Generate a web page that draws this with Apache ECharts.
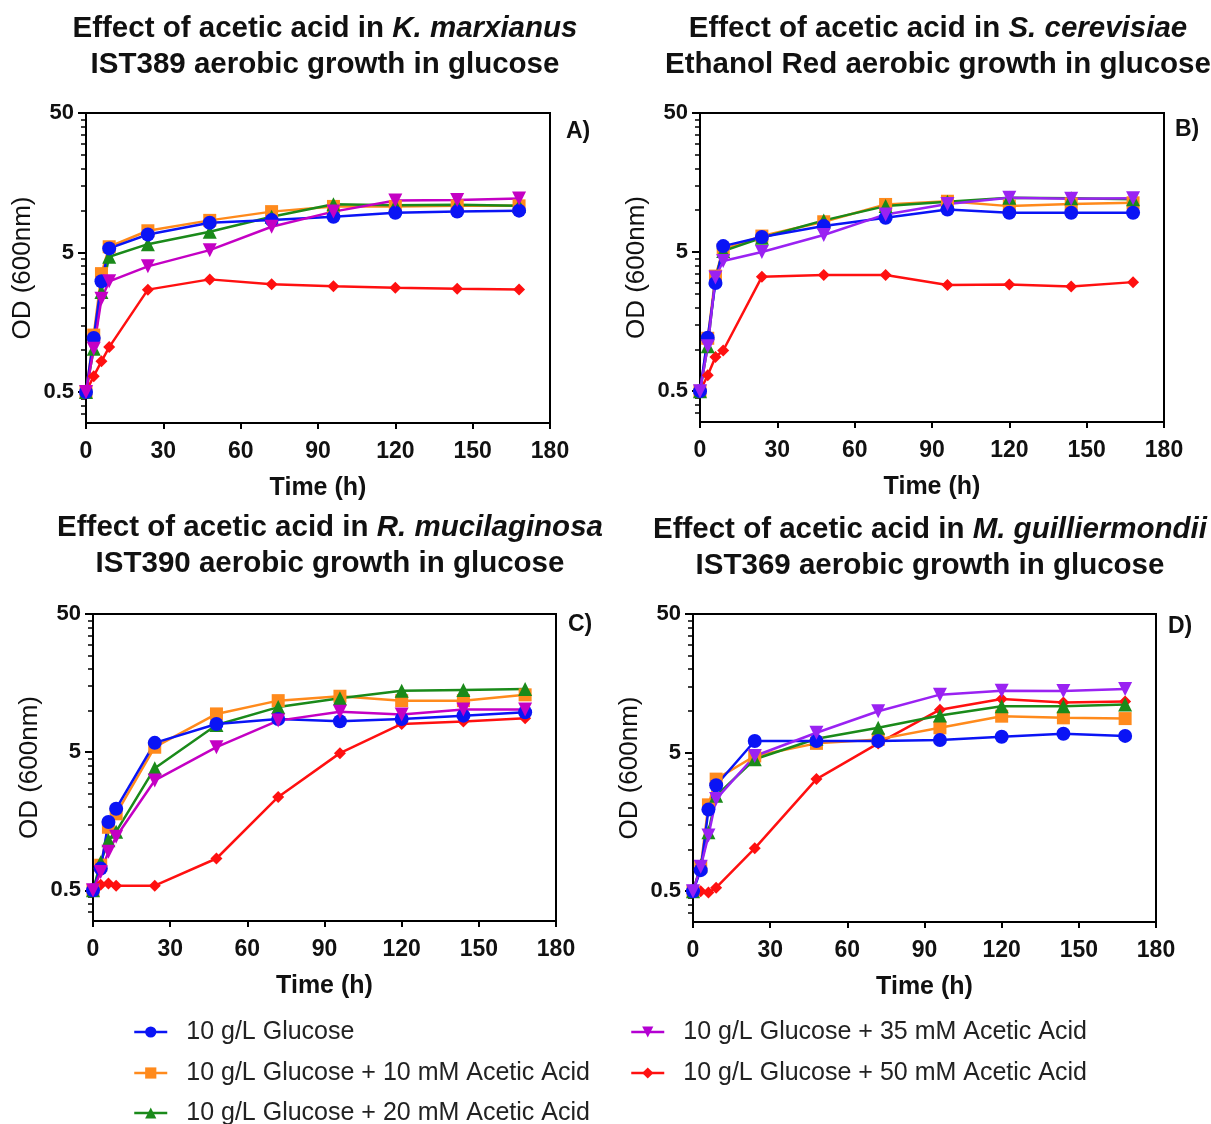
<!DOCTYPE html>
<html>
<head>
<meta charset="utf-8">
<script src="https://cdn.jsdelivr.net/npm/echarts@6/dist/echarts.min.js"></script>
<style>
  html, body { margin: 0; padding: 0; background: #fff; }
  #chart { width: 1211px; height: 1124px; }
</style>
</head>
<body>
<div id="chart"></div>
<script>
// sampling times (h)
const times = [0, 3, 6, 9, 24, 48, 72, 96, 120, 144, 168];

const seriesNames = [
  '10 g/L Glucose',
  '10 g/L Glucose + 10 mM Acetic Acid',
  '10 g/L Glucose + 20 mM Acetic Acid',
  '10 g/L Glucose + 35 mM Acetic Acid',
  '10 g/L Glucose + 50 mM Acetic Acid'
];

// A) K. marxianus IST389
const aGlc  = [0.5, 1.22, 3.11, 5.35, 6.73, 8.18, 8.54, 9.03, 9.65, 9.82, 9.98];
const aAA10 = [0.5, 1.28, 3.53, 5.5, 7.16, 8.5, 9.82, 10.7, 10.7, 10.8, 10.8];
const aAA20 = [0.5, 1.02, 2.61, 4.66, 5.74, 7.04, 9.03, 11.1, 10.9, 11.0, 10.8];
const aAA35 = [0.5, 1.02, 2.33, 3.11, 3.98, 5.2, 7.65, 9.82, 11.8, 11.9, 12.2];
const aAA50 = [0.5, 0.65, 0.83, 1.05, 2.71, 3.21, 2.96, 2.86, 2.80, 2.75, 2.72];

// B) S. cerevisiae Ethanol Red
const bGlc  = [0.5, 1.21, 3.0, 5.52, 6.41, 7.69, 8.83, 10.1, 9.59, 9.59, 9.59];
const bAA10 = [0.5, 1.2, 3.36, 5.23, 6.52, 8.26, 11.0, 11.6, 10.7, 11.1, 11.3];
const bAA20 = [0.5, 1.05, 3.28, 5.08, 6.34, 8.45, 10.7, 11.5, 12.3, 12.2, 12.0];
const bAA35 = [0.5, 1.05, 3.28, 4.31, 5.0, 6.63, 9.33, 11.1, 12.3, 12.1, 12.2];
const bAA50 = [0.5, 0.65, 0.88, 0.98, 3.32, 3.42, 3.42, 2.90, 2.92, 2.83, 3.04];

// C) R. mucilaginosa IST390
const cGlc  = [0.5, 0.72, 1.56, 1.95, 5.84, 8.0, 8.7, 8.37, 8.7, 9.19, 9.72];
const cAA10 = [0.5, 0.76, 1.43, 1.79, 5.43, 9.46, 11.8, 12.7, 11.8, 11.8, 13.0];
const cAA20 = [0.5, 0.80, 1.15, 1.33, 3.83, 7.87, 10.6, 12.3, 13.9, 14.1, 14.3];
const cAA35 = [0.5, 0.68, 0.95, 1.22, 3.12, 5.43, 8.46, 9.82, 9.35, 10.2, 10.2];
const cAA50 = [0.5, 0.55, 0.56, 0.54, 0.54, 0.85, 2.37, 4.92, 8.0, 8.32, 8.8];

// D) M. guilliermondii IST369
const dGlc  = [0.5, 0.71, 1.94, 2.91, 6.06, 6.06, 6.06, 6.16, 6.51, 6.84, 6.6];
const dAA10 = [0.5, 0.75, 2.1, 3.22, 4.73, 5.83, 6.23, 7.55, 9.16, 8.91, 8.8];
const dAA20 = [0.5, 0.77, 1.33, 2.44, 4.48, 6.3, 7.55, 9.26, 10.8, 10.8, 11.1];
const dAA35 = [0.5, 0.75, 1.26, 2.31, 4.73, 6.96, 9.94, 13.1, 14.0, 13.9, 14.4];
const dAA50 = [0.5, 0.5, 0.49, 0.53, 1.02, 3.22, 5.83, 10.2, 12.2, 11.5, 11.7];

const yMajorTicks = [0.5, 5, 50];
const yMinorTicks = [0.35, 0.4, 0.45, 1, 1.5, 2, 2.5, 3, 3.5, 4, 4.5, 10, 15, 20, 25, 30, 35, 40, 45];
const xTickStep = 30;

const FONT = '"Liberation Sans", Arial, sans-serif';
const colors = ['#0a14f5', '#ff8a1c', '#1a8a1a', '#b400d2', '#ff1010'];
const purplePerPanel = ['#c400c4', '#9a22f2', '#c400c4', '#9a22f2'];
const symbols = ['circle', 'rect', 'triangle', 'triangle', 'diamond'];
const symbolRotate = [0, 0, 0, 180, 0];
const symbolSizes = [14, 13, 14, 14, 12];

const panels = [
  { data: [aGlc, aAA10, aAA20, aAA35, aAA50], grid: { left: 86, top: 113, width: 464, height: 310 },
    species: 'K. marxianus', line2: 'IST389 aerobic growth in glucose', tx: 320, ty: 6, tag: 'A)', tagPos: [566, 120] },
  { data: [bGlc, bAA10, bAA20, bAA35, bAA50], grid: { left: 700, top: 113, width: 464, height: 309 },
    species: 'S. cerevisiae', line2: 'Ethanol Red aerobic growth in glucose', tx: 933, ty: 6, tag: 'B)', tagPos: [1175, 118] },
  { data: [cGlc, cAA10, cAA20, cAA35, cAA50], grid: { left: 93, top: 614, width: 463, height: 307 },
    species: 'R. mucilaginosa', line2: 'IST390 aerobic growth in glucose', tx: 325, ty: 505, tag: 'C)', tagPos: [568, 613] },
  { data: [dGlc, dAA10, dAA20, dAA35, dAA50], grid: { left: 693, top: 614, width: 463, height: 308 },
    species: 'M. guilliermondii', line2: 'IST369 aerobic growth in glucose', tx: 925, ty: 507, tag: 'D)', tagPos: [1168, 615] }
];

const grids = [], xAxes = [], yAxes = [], series = [], titles = [], graphics = [];
// draw order: red, orange, green, blue, purple
const drawOrder = [4, 1, 2, 0, 3];

panels.forEach((p, i) => {
  grids.push(Object.assign({ show: true, borderColor: '#000', borderWidth: 2, backgroundColor: 'transparent' }, p.grid));
  xAxes.push({
    type: 'value', gridIndex: i, min: 0, max: 180, interval: xTickStep,
    name: 'Time (h)', nameLocation: 'middle', nameGap: 53,
    nameTextStyle: { fontFamily: FONT, fontSize: 25, fontWeight: 'bold', color: '#111' },
    axisLine: { show: true, lineStyle: { color: '#000', width: 2 } },
    axisTick: { show: true, length: 6, lineStyle: { color: '#000', width: 2 } },
    axisLabel: { fontFamily: FONT, fontSize: 23, fontWeight: 'bold', color: '#111', margin: 17 },
    splitLine: { show: false }
  });
  yAxes.push({
    type: 'log', gridIndex: i, logBase: 10, min: 0.3, max: 50, position: 'left',
    name: 'OD (600nm)', nameLocation: 'middle', nameGap: 50,
    nameTextStyle: { fontFamily: FONT, fontSize: 26, color: '#111' },
    axisLine: { show: true, lineStyle: { color: '#000', width: 2 } },
    axisTick: { show: true, length: 8, customValues: yMajorTicks, lineStyle: { color: '#000', width: 2 } },
    axisLabel: { fontFamily: FONT, fontSize: 22, fontWeight: 'bold', color: '#111', margin: 12,
      customValues: yMajorTicks, formatter: v => String(v) },
    splitLine: { show: false }
  });
  yAxes.push({
    type: 'log', gridIndex: i, logBase: 10, min: 0.3, max: 50, position: 'left',
    axisLine: { show: false },
    axisTick: { show: true, length: 5, customValues: yMinorTicks, lineStyle: { color: '#000', width: 1.5 } },
    axisLabel: { show: false },
    splitLine: { show: false }
  });
  drawOrder.forEach(k => {
    const col = k === 3 ? purplePerPanel[i] : colors[k];
    series.push({
      type: 'line', name: seriesNames[k], xAxisIndex: i, yAxisIndex: i * 2,
      data: times.map((t, j) => [t, p.data[k][j]]),
      symbol: symbols[k], symbolRotate: symbolRotate[k], symbolSize: symbolSizes[k],
      showAllSymbol: true,
      lineStyle: { color: col, width: 2.5 },
      itemStyle: { color: col },
      emphasis: { disabled: true },
      animation: false
    });
  });
  titles.push({
    left: p.tx, top: p.ty, textAlign: 'center',
    text: '{b|Effect of acetic acid in }{i|' + p.species + '}\n{b|' + p.line2 + '}',
    textStyle: {
      rich: {
        b: { fontFamily: FONT, fontSize: 29.5, fontWeight: 'bold', color: '#111', lineHeight: 36 },
        i: { fontFamily: FONT, fontSize: 29.5, fontWeight: 'bold', fontStyle: 'italic', color: '#111', lineHeight: 36 }
      }
    }
  });
  graphics.push({
    type: 'text', left: p.tagPos[0], top: p.tagPos[1],
    style: { text: p.tag, font: 'bold 23px ' + FONT, fill: '#111' }
  });
});

// one legend per row: two columns
const legendPos = [[128, 1013], [128, 1054], [128, 1094], [625, 1013], [625, 1054]];
const legends = seriesNames.map((name, k) => ({
  left: legendPos[k][0], top: legendPos[k][1],
  itemWidth: 33, itemHeight: 14,
  textStyle: { fontFamily: FONT, fontSize: 25, color: '#222', lineHeight: 28, padding: [0, 0, 0, 14] },
  selectedMode: false,
  data: [{ name: name, itemStyle: { color: colors[k] }, lineStyle: { color: colors[k], width: 2.5 } }]
}));

const chart = echarts.init(document.getElementById('chart'));
chart.setOption({
  animation: false,
  backgroundColor: '#fff',
  title: titles,
  grid: grids,
  xAxis: xAxes,
  yAxis: yAxes,
  legend: legends,
  graphic: graphics,
  series: series
});
</script>
</body>
</html>
